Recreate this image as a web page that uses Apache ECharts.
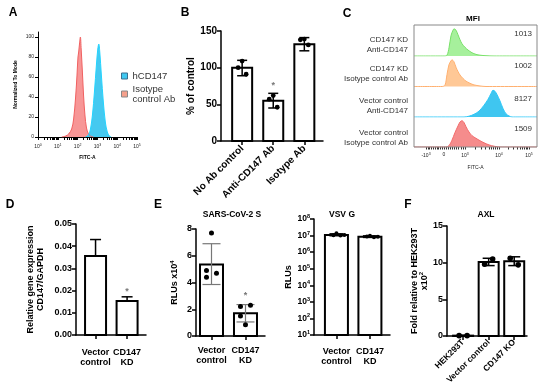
<!DOCTYPE html>
<html><head><meta charset="utf-8">
<script src="https://cdn.jsdelivr.net/npm/echarts@6/dist/echarts.min.js"></script>
<style>html,body{margin:0;padding:0;background:#fff}#c{width:550px;height:391px}</style>
</head><body><div id="c"></div>
<script>
const FONT = '"Liberation Sans", Arial, sans-serif';

// ---------- Panel A (flow histogram, x in log10 units) ----------
const A_EXP_TICKS = [0, 1, 2, 3, 4, 5];
const A_ISOTYPE = [[1.2,0],[1.4,1],[1.55,3],[1.7,8],[1.8,18],[1.9,40],[1.97,62],[2.02,80],[2.06,86],[2.1,94],[2.14,100],[2.18,88],[2.24,66],[2.3,42],[2.37,22],[2.45,9],[2.55,3],[2.65,1],[2.8,0]];
const A_HCD147 = [[2.4,0],[2.55,2],[2.65,8],[2.75,22],[2.85,45],[2.95,72],[3.02,88],[3.07,93],[3.12,85],[3.2,62],[3.3,35],[3.4,15],[3.5,5],[3.6,1],[3.7,0]];

// ---------- Panel B ----------
const B_CATS = ['No Ab control', 'Anti-CD147 Ab', 'Isotype Ab'];
const B_MEAN = [100, 55, 132];
const B_LOW = [89, 45, 123];
const B_HIGH = [110, 65, 141];
const B_POINTS = [[109, 100, 91], [62, 57, 46], [139, 138, 131]];
const B_STAR = [null, 76, null];

// ---------- Panel C (display units of the biexponential FITC-A axis) ----------
const C_LABELS = ['CD147 KD\nAnti-CD147', 'CD147 KD\nIsotype control Ab', 'Vector control\nAnti-CD147', 'Vector control\nIsotype control Ab'];
const C_MFI = ['1013', '1002', '8127', '1509'];
const C_TICK_POS = [12, 30, 51, 85, 115];
const C_TICK_LABELS = [['-10','3'], ['0',''], ['10','3'], ['10','4'], ['10','5']];
const C_HIST = [
  [[0,0],[30,0],[33,3],[35,30],[37,75],[39,95],[40,100],[42,95],[44,78],[46,60],[48,45],[51,32],[54,22],[58,12],[62,6],[66,3],[72,1],[80,0],[123,0]],
  [[0,0],[28,0],[31,5],[33,45],[35,82],[37,96],[38,100],[40,92],[42,72],[44,56],[46,43],[49,30],[52,20],[56,12],[60,6],[66,2],[72,0],[123,0]],
  [[0,0],[50,0],[55,3],[60,10],[65,22],[70,44],[74,66],[77,88],[79,100],[81,96],[83,84],[86,60],[89,32],[92,12],[95,4],[98,0],[123,0]],
  [[0,0],[32,0],[35,5],[38,26],[41,55],[44,80],[46,95],[48,100],[50,93],[52,77],[55,57],[58,43],[62,33],[66,24],[70,16],[75,8],[80,3],[86,0],[123,0]]
];
const C_LINE = ['#78e068', '#ffb070', '#2fc8f8', '#f26b6b'];
const C_FILL = ['#a6f09c', '#ffc896', '#3fc6f0', '#f58c8c'];

// ---------- Panel D ----------
const D_CATS = ['Vector\ncontrol', 'CD147\nKD'];
const D_MEAN = [0.0356, 0.0153];
const D_HIGH = [0.043, 0.0172];
const D_STAR = [null, 0.0198];

// ---------- Panel E (SARS-CoV-2 S, VSV G) ----------
const E_CATS = ['Vector\ncontrol', 'CD147\nKD'];
const E1_MEAN = [5.35, 1.7];
const E1_LOW = [3.85, 1.05];
const E1_HIGH = [6.9, 2.35];
const E1_POINTS = [[7.7, 4.9, 4.7, 4.4], [0.85, 2.2, 2.3, 1.5]];
const E1_STAR = [null, 3.05];
const E2_MEAN = [1.1e7, 8.6e6];
const E2_LOW = [9.6e6, 7.6e6];
const E2_HIGH = [1.3e7, 9.8e6];
const E2_POINTS = [[1.05e7, 1.4e7, 1.0e7, 1.1e7], [8.8e6, 9.8e6, 8.0e6, 8.5e6]];
const E2_TICKS = [1e1, 1e2, 1e3, 1e4, 1e5, 1e6, 1e7, 1e8];

// ---------- Panel F ----------
const F_CATS = ['HEK293T', 'Vector control', 'CD147 KO'];
const F_MEAN = [0.05, 10.1, 10.2];
const F_LOW = [0, 9.6, 9.6];
const F_HIGH = [0.1, 10.6, 10.8];
const F_POINTS = [[0.05, 0.05], [9.8, 10.5], [10.6, 9.7]];

// ================= helpers =================
function barItem(w, base, lw) {
  return function (params, api) {
    const x = api.value(0), v = api.value(1);
    const p1 = api.coord([x, v]), p0 = api.coord([x, base]);
    return { type: 'rect', shape: { x: p1[0] - w / 2, y: Math.min(p1[1], p0[1]), width: w, height: Math.abs(p0[1] - p1[1]) },
      style: { fill: '#fff', stroke: '#000', lineWidth: lw } };
  };
}
function errItem(cap, color, lw, lowCap) {
  return function (params, api) {
    const x = api.value(0);
    const lo = api.coord([x, api.value(1)]), hi = api.coord([x, api.value(2)]);
    const st = { stroke: color, lineWidth: lw };
    const ch = [
      { type: 'line', shape: { x1: lo[0], y1: lo[1], x2: hi[0], y2: hi[1] }, style: st },
      { type: 'line', shape: { x1: hi[0] - cap / 2, y1: hi[1], x2: hi[0] + cap / 2, y2: hi[1] }, style: st }
    ];
    if (lowCap) ch.push({ type: 'line', shape: { x1: lo[0] - cap / 2, y1: lo[1], x2: lo[0] + cap / 2, y2: lo[1] }, style: st });
    return { type: 'group', children: ch };
  };
}
function dotItem(jitter, r) {
  return function (params, api) {
    const p = api.coord([api.value(0), api.value(1)]);
    return { type: 'circle', shape: { cx: p[0] + jitter[api.value(2) % jitter.length], cy: p[1], r: r }, style: { fill: '#000' } };
  };
}
function starItem(params, api) {
  const p = api.coord([api.value(0), api.value(1)]);
  return { type: 'text', x: p[0], y: p[1], style: { text: '*', fill: '#777', font: 'bold 9px ' + FONT, align: 'center', verticalAlign: 'middle' } };
}
function pairs(arr) { return arr.map((v, i) => [i, v]); }
function triples(lo, hi) { return lo.map((v, i) => [i, v, hi[i]]); }
function points(pts) { const out = []; pts.forEach((g, i) => g.forEach((v, k) => out.push([i, v, k]))); return out; }
function stars(arr) { const out = []; arr.forEach((v, i) => { if (v != null) out.push([i, v]); }); return out; }

function catX(gi, min, max, cats, lbl) {
  const idx = cats.map((c, i) => i);
  return {
    gridIndex: gi, type: 'value', min: min, max: max, position: 'bottom',
    axisLine: { show: true, onZero: false, lineStyle: { color: '#000', width: 1.5 } },
    axisTick: { show: true, customValues: idx, length: 4, lineStyle: { color: '#000', width: 1.5 } },
    axisLabel: Object.assign({ customValues: idx, formatter: v => cats[Math.round(v)], fontFamily: FONT, fontWeight: 'bold', fontSize: 9, color: '#000', lineHeight: 10 }, lbl || {}),
    splitLine: { show: false }
  };
}
function valY(gi, opt) {
  return Object.assign({
    gridIndex: gi, type: 'value', position: 'left',
    axisLine: { show: true, onZero: false, lineStyle: { color: '#000', width: 1.5 } },
    axisTick: { show: true, length: 4, lineStyle: { color: '#000', width: 1.5 } },
    axisLabel: { fontFamily: FONT, fontWeight: 'bold', fontSize: 9, color: '#000', margin: 4 },
    splitLine: { show: false },
    nameLocation: 'middle', nameRotate: 90,
    nameTextStyle: { fontFamily: FONT, fontWeight: 'bold', fontSize: 9, color: '#000', lineHeight: 10 }
  }, opt);
}

// ================= grids =================
const grids = [
  { left: 38, top: 32, width: 99, height: 105 },      // 0 A
  { left: 221, top: 31, width: 102, height: 110 },    // 1 B
  { left: 414, top: 25, width: 123, height: 31 },     // 2 C row1
  { left: 414, top: 56, width: 123, height: 30.5 },   // 3 C row2
  { left: 414, top: 86.5, width: 123, height: 30.5 }, // 4 C row3
  { left: 414, top: 117, width: 123, height: 30 },    // 5 C row4
  { left: 76, top: 224, width: 70, height: 111 },     // 6 D
  { left: 196, top: 229, width: 69, height: 107 },    // 7 E1
  { left: 314, top: 219, width: 76, height: 116 },    // 8 E2
  { left: 447, top: 226, width: 80, height: 110 }     // 9 F
].map(g => Object.assign({ containLabel: false, outerBoundsMode: 'none' }, g));

const tiny = { fontFamily: FONT, fontSize: 5, color: '#222' };

// tick positions (major + minor) for the log-scaled flow axes
const A_TICKS_ALL = A_EXP_TICKS.slice();
for (let d = 0; d < 5; d++) for (let k = 2; k <= 9; k++) A_TICKS_ALL.push(d + Math.log10(k));
A_TICKS_ALL.sort((a, b) => a - b);
const C_TICKS_ALL = C_TICK_POS.slice();
for (let k = 2; k <= 9; k++) { C_TICKS_ALL.push(51 + 34 * Math.log10(k)); C_TICKS_ALL.push(85 + 30 * Math.log10(k)); }
for (let k = 1; k <= 9; k++) { C_TICKS_ALL.push(30 + 21 * k / 10); C_TICKS_ALL.push(30 - 18 * k / 10); }
C_TICKS_ALL.sort((a, b) => a - b);

const xAxes = [
  { // 0 A
    gridIndex: 0, type: 'value', min: 0, max: 5, position: 'bottom',
    axisLine: { show: true, onZero: false, lineStyle: { color: '#000', width: 1 } },
    axisTick: { show: true, customValues: A_TICKS_ALL, length: 3, lineStyle: { color: '#000', width: 1 } },
    axisLabel: { customValues: A_EXP_TICKS, margin: 6, formatter: v => '{b|10}{s|' + Math.round(v) + '}', rich: { b: tiny, s: Object.assign({}, tiny, { fontSize: 3.5, padding: [0, 0, 4, 0] }) } },
    splitLine: { show: false },
    name: 'FITC-A', nameLocation: 'middle', nameGap: 18, nameTextStyle: { fontFamily: FONT, fontWeight: 'bold', fontSize: 5, color: '#000' }
  },
  catX(1, -0.68, 2.6, B_CATS, { rotate: 45, margin: 6, fontSize: 10 }),
];
for (let i = 0; i < 4; i++) {
  const bottom = i === 3;
  xAxes.push({
    gridIndex: 2 + i, type: 'value', min: 0, max: 123, position: 'bottom',
    axisLine: { show: false, onZero: false },
    axisTick: { show: bottom, customValues: C_TICKS_ALL, length: 2.5, inside: false, lineStyle: { color: '#333', width: 1 } },
    axisLabel: { show: bottom, customValues: C_TICK_POS, margin: 5,
      formatter: v => { const t = C_TICK_LABELS[C_TICK_POS.indexOf(v)] || ['', '']; return '{b|' + t[0] + '}' + (t[1] ? '{s|' + t[1] + '}' : ''); },
      rich: { b: tiny, s: Object.assign({}, tiny, { fontSize: 3.5, padding: [0, 0, 4, 0] }) } },
    splitLine: { show: false },
    name: bottom ? 'FITC-A' : '', nameLocation: 'middle', nameGap: 18, nameTextStyle: { fontFamily: FONT, fontSize: 5, color: '#222' }
  });
}
xAxes.push(catX(6, -0.62, 1.6, D_CATS, { margin: 13 }));         // 6 D
xAxes.push(catX(7, -0.456, 1.574, E_CATS, { margin: 10 }));      // 7 E1
xAxes.push(catX(8, -0.67, 1.6, E_CATS, { margin: 12 }));         // 8 E2
xAxes.push(catX(9, -0.63, 2.5, F_CATS, { rotate: 45, margin: 5, fontSize: 8.5 })); // 9 F

const yAxes = [
  { // 0 A
    gridIndex: 0, type: 'value', min: 0, max: 105, interval: 20, position: 'left',
    axisLine: { show: true, onZero: false, lineStyle: { color: '#000', width: 1 } },
    axisTick: { show: true, length: 3, lineStyle: { color: '#000' } },
    axisLabel: Object.assign({ margin: 4, showMaxLabel: false }, tiny),
    splitLine: { show: false },
    name: 'Normalized To Mode', nameLocation: 'middle', nameRotate: 90, nameGap: 20,
    nameTextStyle: { fontFamily: FONT, fontWeight: 'bold', fontSize: 5, color: '#000' }
  },
  valY(1, { min: 0, max: 150, interval: 50, name: '% of control', nameGap: 22,
    axisLabel: { fontFamily: FONT, fontWeight: 'bold', fontSize: 10, color: '#000', margin: 4 },
    nameTextStyle: { fontFamily: FONT, fontWeight: 'bold', fontSize: 10, color: '#000' } })
];
for (let i = 0; i < 4; i++) yAxes.push({ gridIndex: 2 + i, type: 'value', min: 0, max: 114, show: false });
yAxes.push(valY(6, { min: 0, max: 0.05, interval: 0.01, name: 'Relative gene expression\nCD147/GAPDH', nameGap: 30,
  axisLabel: { fontFamily: FONT, fontWeight: 'bold', fontSize: 9, color: '#000', margin: 4, formatter: v => v.toFixed(2) } }));
yAxes.push(valY(7, { min: 0, max: 8, interval: 2, name: '{n|RLUs x10}{s|4}', nameGap: 16,
  nameTextStyle: { fontFamily: FONT, fontWeight: 'bold', fontSize: 9, color: '#000',
    rich: { n: { fontFamily: FONT, fontWeight: 'bold', fontSize: 9, color: '#000' }, s: { fontFamily: FONT, fontWeight: 'bold', fontSize: 6, color: '#000', padding: [0, 0, 5, 0] } } } }));
yAxes.push(valY(8, { type: 'log', logBase: 10, min: 10, max: 1e8, name: 'RLUs', nameGap: 20,
  axisTick: { show: true, customValues: E2_TICKS, length: 4, lineStyle: { color: '#000', width: 1.5 } },
  axisLabel: { customValues: E2_TICKS, margin: 4, formatter: v => '{b|10}{s|' + Math.round(Math.log10(v)) + '}',
    rich: { b: { fontFamily: FONT, fontWeight: 'bold', fontSize: 8.5, color: '#000' }, s: { fontFamily: FONT, fontWeight: 'bold', fontSize: 5.5, color: '#000', padding: [0, 0, 5, 0] } } } }));
yAxes.push(valY(9, { min: 0, max: 15, interval: 5, name: '{n|Fold relative to HEK293T}\n{n|x10}{s|2}', nameGap: 14,
  nameTextStyle: { fontFamily: FONT, fontWeight: 'bold', fontSize: 9, color: '#000', lineHeight: 10,
    rich: { n: { fontFamily: FONT, fontWeight: 'bold', fontSize: 9, color: '#000', lineHeight: 10 }, s: { fontFamily: FONT, fontWeight: 'bold', fontSize: 6, color: '#000', padding: [0, 0, 5, 0] } } } }));

// ================= series =================
const series = [
  { name: 'Isotype control Ab', type: 'line', xAxisIndex: 0, yAxisIndex: 0, data: A_ISOTYPE, smooth: 0.35, symbol: 'none',
    itemStyle: { color: '#f58c8c' }, lineStyle: { color: '#f06060', width: 1 }, areaStyle: { color: '#f79696', opacity: 1 } },
  { name: 'hCD147', type: 'line', xAxisIndex: 0, yAxisIndex: 0, data: A_HCD147, smooth: 0.35, symbol: 'none',
    itemStyle: { color: '#3fc8f0' }, lineStyle: { color: '#22d4ff', width: 1 }, areaStyle: { color: '#45c9f0', opacity: 1 } }
];
// B
series.push({ type: 'custom', xAxisIndex: 1, yAxisIndex: 1, renderItem: barItem(20, 0, 2), data: pairs(B_MEAN), clip: false, z: 2 });
series.push({ type: 'custom', xAxisIndex: 1, yAxisIndex: 1, renderItem: errItem(10, '#000', 1.5, true), data: triples(B_LOW, B_HIGH), clip: false, z: 3 });
series.push({ type: 'custom', xAxisIndex: 1, yAxisIndex: 1, renderItem: dotItem([0, -4, 4], 2.4), data: points(B_POINTS), clip: false, z: 4 });
series.push({ type: 'custom', xAxisIndex: 1, yAxisIndex: 1, renderItem: starItem, data: stars(B_STAR), clip: false, z: 4 });
// C
C_HIST.forEach((h, i) => series.push({ type: 'line', xAxisIndex: 2 + i, yAxisIndex: 2 + i, data: h, smooth: 0.3, symbol: 'none',
  lineStyle: { color: C_LINE[i], width: 1 }, areaStyle: { color: C_FILL[i], opacity: 1 }, itemStyle: { color: C_FILL[i] } }));
// D
series.push({ type: 'custom', xAxisIndex: 6, yAxisIndex: 6, renderItem: barItem(21, 0, 2), data: pairs(D_MEAN), clip: false, z: 2 });
series.push({ type: 'custom', xAxisIndex: 6, yAxisIndex: 6, renderItem: errItem(11, '#000', 1.5, false), data: triples(D_MEAN, D_HIGH), clip: false, z: 3 });
series.push({ type: 'custom', xAxisIndex: 6, yAxisIndex: 6, renderItem: starItem, data: stars(D_STAR), clip: false, z: 4 });
// E1
series.push({ type: 'custom', xAxisIndex: 7, yAxisIndex: 7, renderItem: barItem(23, 0, 2), data: pairs(E1_MEAN), clip: false, z: 2 });
series.push({ type: 'custom', xAxisIndex: 7, yAxisIndex: 7, renderItem: errItem(18, '#777', 1.2, true), data: triples(E1_LOW, E1_HIGH), clip: false, z: 3 });
series.push({ type: 'custom', xAxisIndex: 7, yAxisIndex: 7, renderItem: dotItem([0, -5, 5, -5], 2.5), data: points(E1_POINTS), clip: false, z: 4 });
series.push({ type: 'custom', xAxisIndex: 7, yAxisIndex: 7, renderItem: starItem, data: stars(E1_STAR), clip: false, z: 4 });
// E2
series.push({ type: 'custom', xAxisIndex: 8, yAxisIndex: 8, renderItem: barItem(23, 10, 2), data: pairs(E2_MEAN), clip: false, z: 2 });
series.push({ type: 'custom', xAxisIndex: 8, yAxisIndex: 8, renderItem: errItem(14, '#000', 1.2, true), data: triples(E2_LOW, E2_HIGH), clip: false, z: 3 });
series.push({ type: 'custom', xAxisIndex: 8, yAxisIndex: 8, renderItem: dotItem([-3, 0, 4, 8], 2), data: points(E2_POINTS), clip: false, z: 4 });
// F
series.push({ type: 'custom', xAxisIndex: 9, yAxisIndex: 9, renderItem: barItem(20, 0, 2), data: pairs(F_MEAN), clip: false, z: 2 });
series.push({ type: 'custom', xAxisIndex: 9, yAxisIndex: 9, renderItem: errItem(12, '#000', 1.5, true), data: triples(F_LOW, F_HIGH), clip: false, z: 3 });
series.push({ type: 'custom', xAxisIndex: 9, yAxisIndex: 9, renderItem: dotItem([-4, 4], 2.8), data: points(F_POINTS), clip: false, z: 4 });

// ================= graphic texts =================
function txt(x, y, text, font, align, fill) {
  return { type: 'text', x: x, y: y, style: { text: text, font: font, align: align || 'center', verticalAlign: 'middle', textAlign: align || 'center', textVerticalAlign: 'middle', fill: fill || '#000', lineHeight: 10 } };
}
const big = 'bold 12px ' + FONT;
const graphic = [
  txt(13, 13, 'A', big), txt(185, 13, 'B', big), txt(347, 14, 'C', big),
  txt(10, 205, 'D', big), txt(158, 205, 'E', big), txt(408, 205, 'F', big),
  txt(473, 19, 'MFI', 'bold 8px ' + FONT),
  txt(232, 215, 'SARS-CoV-2 S', 'bold 8.5px ' + FONT),
  txt(342, 215, 'VSV G', 'bold 8.5px ' + FONT),
  txt(486, 215, 'AXL', 'bold 8.5px ' + FONT),
  { type: 'rect', shape: { x: 414, y: 25, width: 123, height: 122 }, style: { fill: 'none', stroke: '#888', lineWidth: 1 }, z: 100 }
];
const C_LABEL_Y = [45, 74, 105.5, 138];
const C_MFI_Y = [34, 66, 99, 129];
C_LABELS.forEach((l, i) => graphic.push(txt(408, C_LABEL_Y[i], l, '8px ' + FONT, 'right', '#333')));
C_MFI.forEach((m, i) => graphic.push(txt(532, C_MFI_Y[i], m, '8px ' + FONT, 'right', '#333')));

const chart = echarts.init(document.getElementById('c'), null, { renderer: 'canvas' });
chart.setOption({
  animation: false,
  backgroundColor: '#fff',
  grid: grids,
  xAxis: xAxes,
  yAxis: yAxes,
  legend: {
    data: [
      { name: 'hCD147', itemStyle: { color: '#3fc8f0', borderColor: '#3a6f90', borderWidth: 1 } },
      { name: 'Isotype control Ab', itemStyle: { color: '#f5a08c', borderColor: '#888', borderWidth: 1 } }
    ],
    orient: 'vertical', left: 121, top: 71, padding: 0, itemWidth: 6, itemHeight: 6, itemGap: 3, icon: 'rect', align: 'left',
    textStyle: { fontFamily: FONT, fontSize: 9.5, color: '#333', lineHeight: 10, align: 'center' },
    formatter: n => n === 'Isotype control Ab' ? 'Isotype\ncontrol Ab' : n
  },
  series: series,
  graphic: graphic
});
</script></body></html>
